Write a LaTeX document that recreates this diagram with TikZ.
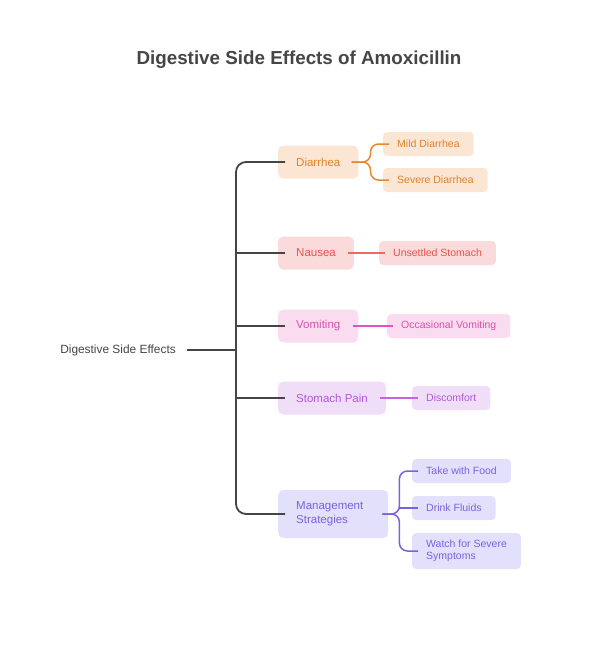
\documentclass[tikz,border=0pt]{standalone}
\usepackage{fontspec}
\setmainfont{Liberation Sans}
\definecolor{dark}{HTML}{454545}
\definecolor{orT}{HTML}{E0822A}\definecolor{orF}{HTML}{FBE6D4}\definecolor{orL}{HTML}{E58A2E}
\definecolor{rdT}{HTML}{E5534F}\definecolor{rdF}{HTML}{FADADB}\definecolor{rdL}{HTML}{EC6A5E}
\definecolor{pkT}{HTML}{DB4FB0}\definecolor{pkF}{HTML}{F9DCEF}\definecolor{pkL}{HTML}{E552B8}
\definecolor{puT}{HTML}{B257D9}\definecolor{puF}{HTML}{F0DEF8}\definecolor{puL}{HTML}{C165E3}
\definecolor{vtT}{HTML}{7B62E0}\definecolor{vtF}{HTML}{E3E0FB}\definecolor{vtL}{HTML}{7C5FE3}
\tikzset{
  cat/.style={rounded corners=5pt,anchor=west,inner xsep=18pt,inner ysep=0pt,minimum height=33pt,align=left,font=\fontsize{11.5}{14}\selectfont},
  leaf/.style={rounded corners=4pt,anchor=west,inner xsep=14pt,inner ysep=0pt,minimum height=24pt,align=left,font=\fontsize{10.5}{12}\selectfont},
  trunk/.style={dark,line width=1.8pt},
  twig/.style={line width=1.5pt}
}
\begin{document}
\begin{tikzpicture}[x=1pt,y=-1pt]
\useasboundingbox (0,0) rectangle (599,654);
\node[font=\bfseries\fontsize{18.8}{22}\selectfont,text=dark] (title) at (299,60) {Digestive Side Effects of Amoxicillin};

\node[anchor=east,inner xsep=0pt,text=dark,font=\fontsize{11.9}{14}\selectfont] (root) at (176,350) {Digestive Side Effects};
\coordinate (hub) at (236,350);

\node[cat,fill=orF,text=orT] (diar) at (278,162) {Diarrhea};
\node[cat,fill=rdF,text=rdT] (naus) at (278,253) {Nausea};
\node[cat,fill=pkF,text=pkT] (vomi) at (278,326) {Vomiting};
\node[cat,fill=puF,text=puT] (pain) at (278,398) {Stomach Pain};
\node[cat,fill=vtF,text=vtT,minimum height=48pt,text width=74pt] (mgmt) at (278,514) {Management\\Strategies};

\node[leaf,fill=orF,text=orT] (mild) at (383,144) {Mild Diarrhea};
\node[leaf,fill=orF,text=orT] (sev) at (383,180) {Severe Diarrhea};
\node[leaf,fill=rdF,text=rdT] (unset) at (379,253) {Unsettled Stomach};
\node[leaf,fill=pkF,text=pkT] (occ) at (387,326) {Occasional Vomiting};
\node[leaf,fill=puF,text=puT] (disc) at (412,398) {Discomfort};
\node[leaf,fill=vtF,text=vtT] (food) at (412,471) {Take with Food};
\node[leaf,fill=vtF,text=vtT] (fluid) at (412,508) {Drink Fluids};
\node[leaf,fill=vtF,text=vtT,minimum height=36pt] (watch) at (412,551) {Watch for Severe\\Symptoms};

\draw[trunk,shorten <=11pt] (root.east) -- (hub);
\draw[trunk,rounded corners=10pt] (hub) |- ([xshift=7pt]diar.west);
\draw[trunk,rounded corners=10pt] (hub) |- ([xshift=7pt]mgmt.west);
\draw[trunk] (hub |- naus.west) -- ([xshift=7pt]naus.west);
\draw[trunk] (hub |- vomi.west) -- ([xshift=7pt]vomi.west);
\draw[trunk] (hub |- pain.west) -- ([xshift=7pt]pain.west);

\draw[twig,orL,rounded corners=8pt] ([xshift=-7pt]diar.east) -- ++(19,0) |- ([xshift=6pt]mild.west);
\draw[twig,orL,rounded corners=8pt] ([xshift=-7pt]diar.east) -- ++(19,0) |- ([xshift=6pt]sev.west);
\draw[twig,rdL] ([xshift=-6pt]naus.east) -- ([xshift=6pt]unset.west);
\draw[twig,pkL] ([xshift=-6pt]vomi.east) -- ([xshift=6pt]occ.west);
\draw[twig,puL] ([xshift=-6pt]pain.east) -- ([xshift=6pt]disc.west);
\draw[twig,vtL,rounded corners=8pt] ([xshift=-6pt]mgmt.east) -- ++(17,0) |- ([xshift=6pt]food.west);
\draw[twig,vtL,rounded corners=8pt] ([xshift=-6pt]mgmt.east) -- ++(17,0) |- ([xshift=6pt]watch.west);
\draw[twig,vtL] ([xshift=11pt]mgmt.east |- fluid.west) -- ([xshift=6pt]fluid.west);
\end{tikzpicture}
\end{document}
